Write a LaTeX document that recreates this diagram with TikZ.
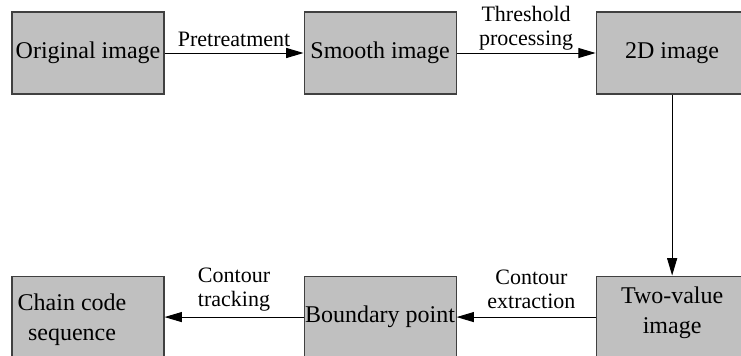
\documentclass[tikz,border=0pt]{standalone}
\usepackage{fontspec}
\setmainfont{Liberation Serif}
\newfontfamily\diagfont{Liberation Serif}
\usetikzlibrary{arrows.meta,positioning}
\definecolor{boxgray}{HTML}{C0C0C0}
\definecolor{edgegray}{HTML}{404040}
\tikzset{
    stagebox/.style={
        draw=edgegray,
        fill=boxgray,
        line width=0.8pt,
        minimum width=114pt,
        minimum height=61.5pt,
        inner sep=0pt,
        align=center,
        font=\diagfont\fontsize{18}{22.5}\selectfont
    },
    flow/.style={
        draw,
        line width=0.75pt,
        -{Triangle[length=13pt,width=7.5pt]}
    },
    steplabel/.style={
        align=center,
        inner sep=4pt,
        font=\diagfont\fontsize{16.5}{18}\selectfont
    }
}
\begin{document}
\begin{tikzpicture}[node distance=135.75pt and 104.25pt]
    \useasboundingbox (0,0) rectangle (555.75pt,266.25pt);
    % top row
    \node[stagebox] (orig) at (66pt,226.5pt) {Original image};
    \node[stagebox, right=of orig] (smooth) {Smooth image};
    \node[stagebox, right=of smooth] (twod) {2D image};
    % bottom row
    \node[stagebox, below=of twod] (binary) {};
    \node[stagebox, left=of binary] (boundary) {Boundary point};
    \node[stagebox, left=of boundary] (chain) {};
    \node[align=center, font=\diagfont\fontsize{18}{22.5}\selectfont]
        (binarytext) at ([yshift=3pt]binary.center) {Two-value\\image};
    \node[align=center, font=\diagfont\fontsize{18}{22}\selectfont]
        (chaintext) at ([xshift=-12pt,yshift=-2pt]chain.center) {Chain code\\sequence};

    \draw[flow] (orig) -- node[steplabel, above] (pre) {Pretreatment} (smooth);
    \draw[flow] (smooth) -- node[steplabel, above, yshift=-2pt] (thr) {Threshold\\processing} (twod);
    \draw[flow] (twod) -- (binary);
    \draw[flow] (binary) -- node[steplabel, above, xshift=4pt, yshift=2pt] (ext) {Contour\\extraction} (boundary);
    \draw[flow] (boundary) -- node[steplabel, above] (track) {Contour\\tracking} (chain);
\end{tikzpicture}
\end{document}
